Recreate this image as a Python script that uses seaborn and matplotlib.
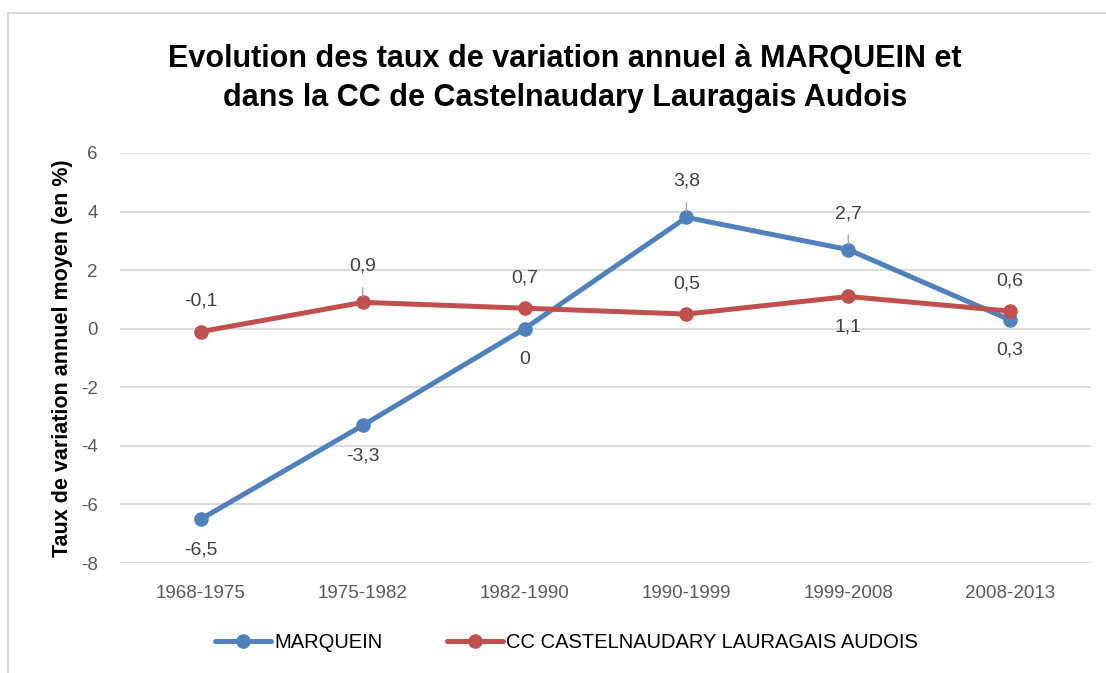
import matplotlib
matplotlib.use("Agg")
import matplotlib.pyplot as plt
from matplotlib.lines import Line2D
from matplotlib.patches import Rectangle
import seaborn as sns
import pandas as pd

# data
periods = ["1968-1975", "1975-1982", "1982-1990", "1990-1999", "1999-2008", "2008-2013"]
marquein = [-6.5, -3.3, 0.0, 3.8, 2.7, 0.3]
cc_cla = [-0.1, 0.9, 0.7, 0.5, 1.1, 0.6]
series_names = ["MARQUEIN", "CC CASTELNAUDARY LAURAGAIS AUDOIS"]
# label placement: +1 above, -1 below
marquein_pos = [-1, -1, -1, 1, 1, -1]
cc_pos = [1, 1, 1, 1, -1, 1]
marquein_leader = [False, False, False, True, True, False]
cc_leader = [False, True, False, False, False, False]

blue = "#4F81BD"
red = "#C0504D"

sns.set_theme(style="white")
plt.rcParams["font.family"] = ["Liberation Sans", "DejaVu Sans"]
plt.rcParams["axes.unicode_minus"] = False

df = pd.DataFrame({
    "period": periods * 2,
    "value": marquein + cc_cla,
    "serie": [series_names[0]] * len(periods) + [series_names[1]] * len(periods),
})

fig = plt.figure(figsize=(11.06, 6.73), dpi=100)
ax = fig.add_axes([0.1085, 0.1634, 0.878, 0.6093])

sns.lineplot(data=df, x="period", y="value", hue="serie", palette=[blue, red],
             marker="o", markersize=10.5, markeredgewidth=0, linewidth=3.6,
             sort=False, ax=ax, legend=False)

ax.set_xlim(-0.5, len(periods) - 0.5)
ax.set_ylim(-8, 6)
ax.set_yticks(range(-8, 7, 2))
ax.grid(axis="y", color="#D9D9D9", linewidth=1.3)
ax.grid(axis="x", visible=False)
for s in ax.spines.values():
    s.set_visible(False)
ax.tick_params(axis="both", length=0, labelsize=13.5, colors="#595959")
ax.tick_params(axis="y", pad=16)
ax.tick_params(axis="x", pad=16)
ax.set_xlabel("")
ax.set_ylabel("Taux de variation annuel moyen (en %)", fontsize=15.5,
              fontweight="bold", color="black", labelpad=6)


def fmt(v):
    return f"{v:g}".replace(".", ",")


def add_labels(vals, pos, leaders):
    for i, (v, p, lead) in enumerate(zip(vals, pos, leaders)):
        off = 26 if lead else 22
        kw = dict(xy=(i, v), xytext=(0, p * off), textcoords="offset points",
                  ha="center", va="center", fontsize=14, color="#404040")
        if lead:
            kw["arrowprops"] = dict(arrowstyle="-", color="#A6A6A6", lw=1,
                                    shrinkA=7, shrinkB=4)
        ax.annotate(fmt(v), **kw)


add_labels(marquein, marquein_pos, marquein_leader)
add_labels(cc_cla, cc_pos, cc_leader)

fig.suptitle("Evolution des taux de variation annuel à MARQUEIN et\n"
             "dans la CC de Castelnaudary Lauragais Audois",
             x=0.511, y=0.935, fontsize=22, fontweight="bold", color="black",
             linespacing=1.42)

handles = [Line2D([], [], color=c, lw=3.6, marker="o", markersize=10.5, markeredgewidth=0)
           for c in (blue, red)]
fig.legend(handles, series_names, loc="center", bbox_to_anchor=(0.512, 0.045), ncol=2,
           frameon=False, fontsize=14.5, handlelength=2.8, handletextpad=0.15,
           columnspacing=3.2, labelcolor="black")

fig.patches.append(Rectangle((8 / 1106, -0.05), 1.2, 1 - 13 / 673 + 0.05,
                             transform=fig.transFigure, fill=False,
                             edgecolor="#D9D9D9", linewidth=1.5))

fig.savefig("out.png", dpi=100, facecolor="white")
